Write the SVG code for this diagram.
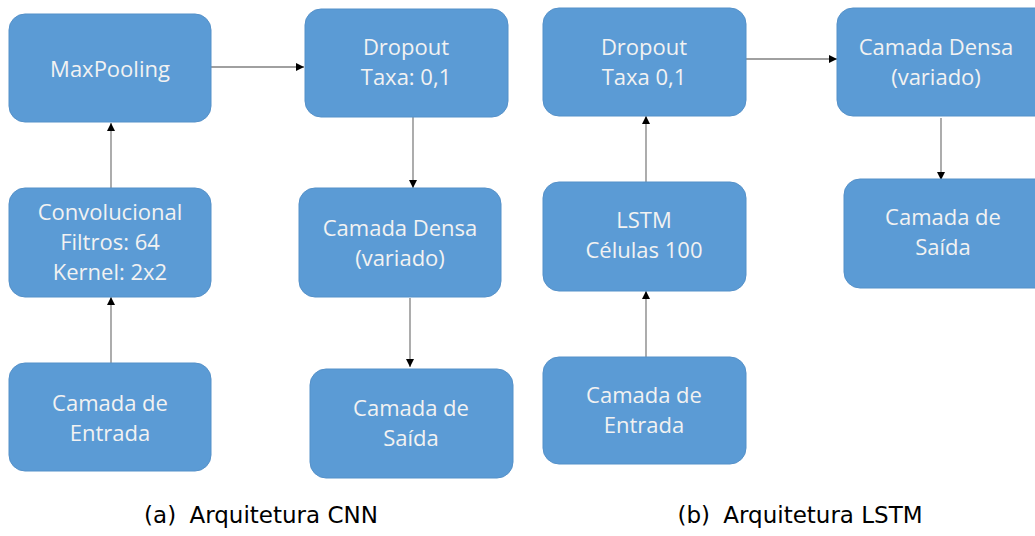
<svg xmlns="http://www.w3.org/2000/svg" width="1035" height="536" viewBox="0 0 1035 536">
  <style>
    .box { fill: #5B9BD5; stroke: #5591C9; stroke-width: 1; }
    .lbl { font-family: "Open Sans", "Liberation Sans", sans-serif; font-size: 22px; fill: #F2F2F2; text-anchor: middle; }
    .cap { font-family: "DejaVu Sans", "Liberation Sans", sans-serif; font-size: 23px; fill: #000; text-anchor: middle; }
    .edge { stroke: #808080; stroke-width: 1.3; fill: none; marker-end: url(#arrow); }
  </style>
  <defs>
    <marker id="arrow" viewBox="0 0 10 10" refX="10" refY="5" markerWidth="8" markerHeight="8" markerUnits="userSpaceOnUse" orient="auto">
      <path d="M0,0 L10,5 L0,10 z" fill="#000"/>
    </marker>
  </defs>
  <rect width="1035" height="536" fill="#fff"/>

  <!-- connectors -->
  <g id="connectors">
    <!-- CNN -->
    <line class="edge" x1="111" y1="363" x2="111" y2="297"/>
    <line class="edge" x1="111" y1="188" x2="111" y2="123"/>
    <line class="edge" x1="211" y1="67" x2="304" y2="67"/>
    <line class="edge" x1="413" y1="117" x2="413" y2="188"/>
    <line class="edge" x1="410" y1="298" x2="410" y2="367"/>
    <!-- LSTM -->
    <line class="edge" x1="646" y1="357" x2="646" y2="291"/>
    <line class="edge" x1="646" y1="182" x2="646" y2="116"/>
    <line class="edge" x1="746" y1="59" x2="837" y2="59"/>
    <line class="edge" x1="941" y1="118" x2="941" y2="180"/>
  </g>

  <!-- CNN nodes -->
  <g id="cnn-input">
    <rect class="box" x="9" y="363" width="202" height="108" rx="16"/>
    <text class="lbl" x="110" y="411">Camada de</text>
    <text class="lbl" x="110" y="441">Entrada</text>
  </g>
  <g id="cnn-conv">
    <rect class="box" x="9" y="188" width="202" height="109" rx="16"/>
    <text class="lbl" x="110" y="220">Convolucional</text>
    <text class="lbl" x="110" y="250">Filtros: 64</text>
    <text class="lbl" x="110" y="280">Kernel: 2x2</text>
  </g>
  <g id="cnn-maxpool">
    <rect class="box" x="9" y="14" width="202" height="108" rx="16"/>
    <text class="lbl" x="110" y="77">MaxPooling</text>
  </g>
  <g id="cnn-dropout">
    <rect class="box" x="305" y="9" width="203" height="108" rx="16"/>
    <text class="lbl" x="406" y="55">Dropout</text>
    <text class="lbl" x="406" y="85">Taxa: 0,1</text>
  </g>
  <g id="cnn-dense">
    <rect class="box" x="299" y="188" width="202" height="109" rx="16"/>
    <text class="lbl" x="400" y="236">Camada Densa</text>
    <text class="lbl" x="400" y="266">(variado)</text>
  </g>
  <g id="cnn-output">
    <rect class="box" x="310" y="369" width="203" height="109" rx="16"/>
    <text class="lbl" x="411" y="416">Camada de</text>
    <text class="lbl" x="411" y="446">Saída</text>
  </g>

  <!-- LSTM nodes -->
  <g id="lstm-input">
    <rect class="box" x="543" y="357" width="203" height="107" rx="16"/>
    <text class="lbl" x="644" y="403">Camada de</text>
    <text class="lbl" x="644" y="433">Entrada</text>
  </g>
  <g id="lstm-cell">
    <rect class="box" x="543" y="182" width="203" height="109" rx="16"/>
    <text class="lbl" x="644" y="228">LSTM</text>
    <text class="lbl" x="644" y="258">Células 100</text>
  </g>
  <g id="lstm-dropout">
    <rect class="box" x="543" y="8" width="203" height="108" rx="16"/>
    <text class="lbl" x="644" y="55">Dropout</text>
    <text class="lbl" x="644" y="85">Taxa 0,1</text>
  </g>
  <g id="lstm-dense">
    <rect class="box" x="837" y="8" width="215" height="108" rx="16"/>
    <text class="lbl" x="936" y="55">Camada Densa</text>
    <text class="lbl" x="936" y="85">(variado)</text>
  </g>
  <g id="lstm-output">
    <rect class="box" x="844" y="179" width="210" height="109" rx="16"/>
    <text class="lbl" x="943" y="225">Camada de</text>
    <text class="lbl" x="943" y="255">Saída</text>
  </g>

  <!-- sub-figure captions -->
  <text class="cap" x="261" y="523">(a)<tspan dx="6"> Arquitetura CNN</tspan></text>
  <text class="cap" x="800" y="523">(b)<tspan dx="6"> Arquitetura LSTM</tspan></text>
</svg>
